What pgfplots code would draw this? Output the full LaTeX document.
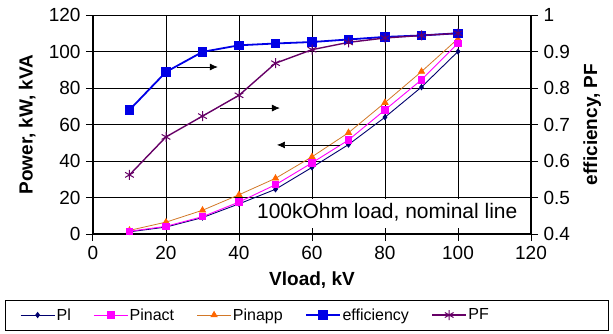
\documentclass[border=0pt]{standalone}
\usepackage{pgfplots}
\pgfplotsset{compat=1.18}
\usetikzlibrary{arrows.meta}
\usepackage{fontspec}
\setmainfont{Liberation Sans}
\definecolor{cPI}{RGB}{0,0,110}
\definecolor{cPinact}{RGB}{255,0,255}
\definecolor{cPinapp}{RGB}{255,102,0}
\definecolor{cPinappL}{RGB}{210,120,40}
\definecolor{cEff}{RGB}{0,0,230}
\definecolor{cPF}{RGB}{102,0,102}
\begin{document}
\begin{tikzpicture}
\useasboundingbox (-93pt,-99pt) rectangle (520pt,234pt);
\pgfplotsset{
  common/.style={
    scale only axis, width=438pt, height=219pt,
    at={(0pt,0pt)}, anchor=south west,
    xmin=0, xmax=120,
    /pgf/number format/assume math mode=true,
    tick label style={font=\fontsize{19}{21}\selectfont},
    label style={font=\fontsize{19}{21}\selectfont\bfseries},
    tick align=outside, major tick length=7pt,
    axis line style={line width=1.2pt},
    every tick/.style={black, line width=1pt},
  }
}
\begin{axis}[common,
  ymin=0, ymax=120,
  xtick={0,20,...,120}, ytick={0,20,...,120},
  axis x line*=bottom, axis y line*=left,
  xticklabel style={yshift=-2pt},
  yticklabel style={xshift=-2pt},
  grid=major, grid style={black, line width=0.8pt},
  xlabel={Vload, kV}, ylabel={Power, kW, kVA},
  xlabel style={at={(axis description cs:0.5,-0.21)}, anchor=center},
  ylabel style={at={(axis description cs:-0.15,0.5)}, anchor=center},
  clip=false,
]
\addplot[color=cPI, line width=0.9pt, mark=diamond*, mark size=2.5pt] coordinates {
(10,1.2)(20,3.8)(30,9)(40,16.5)(50,24.5)(60,36.5)(70,49)(80,64)(90,80.5)(100,100)};
\addplot[color=cPinappL, line width=0.8pt, mark=triangle*, mark size=3.5pt, mark options={color=cPinapp}] coordinates {
(10,2)(20,6.5)(30,13)(40,21.5)(50,30.5)(60,42.3)(70,55.5)(80,72)(90,89)(100,107)};
\addplot[color=cPinact, line width=0.9pt, mark=square*, mark size=3.2pt] coordinates {
(10,1.5)(20,4.2)(30,9.5)(40,17.5)(50,27)(60,39)(70,51.5)(80,68)(90,84.5)(100,104.5)};
\draw[black, line width=0.7pt, -{Latex[length=8pt,width=7pt]}] (axis cs:23,91.5) -- (axis cs:34.2,91.5);
\draw[black, line width=0.7pt, -{Latex[length=8pt,width=7pt]}] (axis cs:34.8,69) -- (axis cs:51.2,69);
\draw[black, line width=0.7pt, -{Latex[length=8pt,width=7pt]}] (axis cs:67.7,48.8) -- (axis cs:50.4,48.8);
\fill[white] (axis cs:44,3.5) rectangle (axis cs:117,19.3);
\node[anchor=west, font=\fontsize{21}{23}\selectfont, inner sep=0pt] at (axis cs:44.9,11.8) {100kOhm load, nominal line};
\draw[black, line width=0.8pt] (rel axis cs:-0.201,-0.301) rectangle (rel axis cs:1.176,-0.44);
\end{axis}
\begin{axis}[common,
  ymin=0.4, ymax=1,
  ytick={0.4,0.5,...,1.0},
  yticklabels={0.4,0.5,0.6,0.7,0.8,0.9,1},
  yticklabel style={xshift=2pt},
  axis x line=none, axis y line*=right,
  ylabel={efficiency, PF},
  ylabel style={at={(axis description cs:1.14,0.5)}, anchor=center},
  legend columns=5,
  legend style={at={(axis description cs:-0.1667,-0.37)}, anchor=west, draw=none, fill=none,
    inner sep=0pt,
    font=\fontsize{16}{18}\selectfont,
    nodes={inner sep=1.5pt},
    /tikz/every even column/.append style={column sep=21pt}},
  legend image code/.code={\draw[mark repeat=2,mark phase=2] plot coordinates {(0pt,0pt)(17pt,0pt)(34pt,0pt)};},
  clip=false,
]
\addlegendimage{color=cPI, line width=0.9pt, mark=diamond*, mark size=2.5pt}
\addlegendentry{Pl}
\addlegendimage{color=cPinact, line width=0.9pt, mark=square*, mark size=3.2pt}
\addlegendentry{Pinact}
\addlegendimage{color=cPinappL, line width=0.8pt, mark=triangle*, mark size=3.5pt, mark options={color=cPinapp}}
\addlegendentry{Pinapp}
\addplot[color=cEff, line width=1.8pt, mark=square*, mark size=3.8pt] coordinates {
(10,0.74)(20,0.844)(30,0.899)(40,0.917)(50,0.922)(60,0.926)(70,0.933)(80,0.940)(90,0.944)(100,0.95)};
\addlegendentry{efficiency}
\addplot[color=cPF, line width=1.4pt, mark=asterisk, mark size=5pt, mark options={line width=1pt}] coordinates {
(10,0.562)(20,0.666)(30,0.723)(40,0.78)(50,0.868)(60,0.905)(70,0.925)(80,0.937)(90,0.944)(100,0.95)};
\addlegendentry{PF}
\end{axis}
\end{tikzpicture}
\end{document}
